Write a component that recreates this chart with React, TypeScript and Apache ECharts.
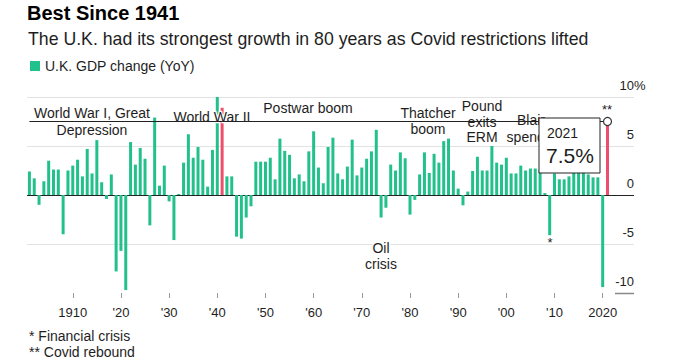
import React, { useEffect, useRef } from "react";
import * as echarts from "echarts";

const firstYear = 1901;
const lastYear = 2021;
const years: number[] = [];
for (let y = firstYear; y <= lastYear; y++) years.push(y);
const padYears = [2022, 2023, 2024, 2025, 2026];

const gdpChange = [
  2.4, 1.7, -1.0, 1.4, 3.5, 2.6, 2.6, -4.0, 2.5, 3.0, // 1901-1910
  3.6, 1.9, 4.7, 2.2, 5.6, 1.3, -0.4, 2.1, -7.8, -5.7, // 1911-1920
  -9.7, 5.4, 3.1, 4.8, 3.7, -3.1, 7.9, 0.95, 3.0, -0.65, // 1921-1930
  -4.6, 0.1, 3.3, 6.2, 3.8, 4.9, 3.6, 0.85, 4.6, 10.0, // 1931-1940
  8.9, 1.9, 1.9, -4.25, -4.45, -2.3, -1.15, 3.4, 3.4, 3.4, // 1941-1950
  3.8, 1.6, 5.75, 4.5, 4.1, 1.7, 2.1, 1.4, 4.45, 6.5, // 1951-1960
  2.8, 1.2, 4.9, 5.85, 2.2, 1.6, 2.9, 5.65, 2.0, 2.8, // 1961-1970
  3.7, 4.45, 6.65, -2.3, -1.3, 3.1, 2.5, 4.35, 3.75, -2.0, // 1971-1980
  -0.5, 2.1, 4.35, 2.25, 4.2, 3.3, 5.5, 5.75, 2.5, 0.65, // 1981-1990
  -1.05, 0.35, 2.45, 3.9, 2.5, 2.5, 5.0, 3.3, 3.1, 3.8, // 1991-2000
  2.2, 2.2, 3.0, 2.5, 2.7, 2.7, 2.6, 0.2, -4.1, 2.2, // 2001-2010
  1.6, 1.6, 1.9, 2.3, 2.3, 2.3, 2.1, 1.8, 1.8, -9.4, // 2011-2020
  7.5, // 2021
];
const highlightYears = [1941, 2021];
const yMin = -10;
const yMax = 10;
const yStep = 5;

const GREEN = "#22c08b";
const RED = "#ee4d6c";
const FONT = "'Liberation Sans', Arial, Helvetica, sans-serif";
const TXT = "#1e1e1e";

function annotation(text: string, x: number, y: number, extra: any = {}) {
  return {
    type: "text",
    x,
    y,
    z: 3,
    style: {
      text,
      font: `14px ${FONT}`,
      fill: TXT,
      align: "center",
      verticalAlign: "middle",
      stroke: "#fff",
      lineWidth: 2.5,
      ...extra,
    },
  };
}

export default function App() {
  const ref = useRef<HTMLDivElement>(null);
  useEffect(() => {
    if (!ref.current) return;
    const chart = echarts.init(ref.current, undefined, { renderer: "svg" });
    const categories = years.concat(padYears).map(String);
    const latest = gdpChange[gdpChange.length - 1];
    const data = gdpChange.map((v, i) =>
      highlightYears.includes(years[i]) ? { value: v, itemStyle: { color: RED } } : v
    );
    chart.setOption({
      animation: false,
      backgroundColor: "#fff",
      textStyle: { fontFamily: FONT },
      title: [
        {
          text: "Best Since 1941",
          left: 27,
          top: 3,
          padding: 0,
          textStyle: { fontSize: 20, fontWeight: "bold", color: "#000", fontFamily: FONT },
        },
        {
          text: "The U.K. had its strongest growth in 80 years as Covid restrictions lifted",
          left: 28,
          top: 30,
          padding: 0,
          textStyle: { fontSize: 17.7, fontWeight: "normal", color: TXT, fontFamily: FONT },
        },
      ],
      legend: {
        data: ["U.K. GDP change (YoY)"],
        left: 30,
        top: 59,
        padding: 0,
        icon: "rect",
        itemWidth: 10,
        itemHeight: 10,
        textStyle: { fontSize: 14, color: TXT, fontFamily: FONT },
      },
      grid: { left: 27, top: 97, width: 607, height: 196, containLabel: false },
      xAxis: {
        type: "category",
        data: categories,
        boundaryGap: true,
        axisLine: { show: false, onZero: false },
        axisTick: {
          show: true,
          alignWithLabel: true,
          interval: (_i: number, v: string) => Number(v) % 10 === 0,
          length: 5,
          lineStyle: { color: "#999" },
        },
        axisLabel: {
          interval: (_i: number, v: string) => Number(v) % 10 === 0,
          formatter: (v: string) => {
            const n = Number(v);
            if (n === 1910 || n === 2020) return v;
            return "'" + v.slice(2);
          },
          color: TXT,
          fontSize: 13,
          margin: 13,
          fontFamily: FONT,
        },
        splitLine: { show: false },
      },
      yAxis: {
        type: "value",
        min: yMin,
        max: yMax,
        interval: yStep,
        position: "right",
        axisLine: { show: false },
        axisTick: { show: false },
        splitLine: {
          show: true,
          lineStyle: {
            color: ["rgba(0,0,0,0)", "#e2e2e2", "#222", "#e2e2e2", "#e2e2e2"],
            width: 1,
          },
        },
        axisLabel: {
          inside: true,
          margin: 0,
          align: "right",
          verticalAlign: "bottom",
          padding: [0, 0, 5, 0],
          color: TXT,
          fontSize: 13,
          fontFamily: FONT,
          formatter: (v: number) => String(v),
        },
      },
      series: [
        {
          name: "U.K. GDP change (YoY)",
          type: "bar",
          data,
          barWidth: 3,
          itemStyle: { color: GREEN },
          markLine: {
            symbol: "none",
            silent: true,
            z: 5,
            label: { show: false },
            lineStyle: { color: "#222", width: 1, type: "solid" },
            data: [[{ coord: [String(firstYear), latest] }, { coord: [String(lastYear), latest] }]],
          },
          markPoint: {
            symbol: "circle",
            symbolSize: 8,
            z: 6,
            itemStyle: { color: "#fff", borderColor: "#333", borderWidth: 1.2 },
            label: { show: false },
            data: [{ coord: [String(lastYear), latest] }],
          },
        },
      ],
      graphic: [
        annotation("World War I, Great", 92, 113),
        annotation("Depression", 92, 130),
        annotation("World War II", 212, 117),
        annotation("Postwar boom", 308, 108),
        annotation("Thatcher", 428, 113),
        annotation("boom", 428, 129),
        annotation("Pound", 482, 106),
        annotation("exits", 482, 122),
        annotation("ERM", 482, 137),
        annotation("Blair", 531, 120),
        annotation("spending", 535, 137),
        annotation("Oil", 381, 248),
        annotation("crisis", 381, 264),
        annotation("*", 550, 242, { font: `13px ${FONT}`, lineWidth: 0 }),
        annotation("**", 607, 109, { font: `13px ${FONT}`, lineWidth: 0 }),
        {
          type: "rect",
          z: 10,
          shape: { x: 539, y: 118, width: 61, height: 55 },
          style: { fill: "#fff", stroke: "#222", lineWidth: 1 },
        },
        {
          type: "text",
          z: 11,
          x: 547,
          y: 133,
          style: { text: "2021", font: `14px ${FONT}`, fill: TXT, align: "left", verticalAlign: "middle" },
        },
        {
          type: "text",
          z: 11,
          x: 546,
          y: 155,
          style: { text: "7.5%", font: `21px ${FONT}`, fill: TXT, align: "left", verticalAlign: "middle" },
        },
        {
          type: "text",
          z: 3,
          x: 634,
          y: 92,
          style: { text: "%", font: `13px ${FONT}`, fill: TXT, align: "left", verticalAlign: "bottom" },
        },
        {
          type: "line",
          z: 3,
          shape: { x1: 615, y1: 293.5, x2: 634, y2: 293.5 },
          style: { stroke: "#888", lineWidth: 1.5 },
        },
        {
          type: "text",
          x: 29,
          y: 336,
          style: { text: "* Financial crisis", font: `14px ${FONT}`, fill: TXT, align: "left", verticalAlign: "middle" },
        },
        {
          type: "text",
          x: 29,
          y: 352,
          style: { text: "** Covid rebound", font: `14px ${FONT}`, fill: TXT, align: "left", verticalAlign: "middle" },
        },
      ],
    });
    return () => chart.dispose();
  }, []);
  return (
    <div
      ref={ref}
      style={{ position: "fixed", left: 0, top: 0, width: 679, height: 362, background: "#fff" }}
    />
  );
}
